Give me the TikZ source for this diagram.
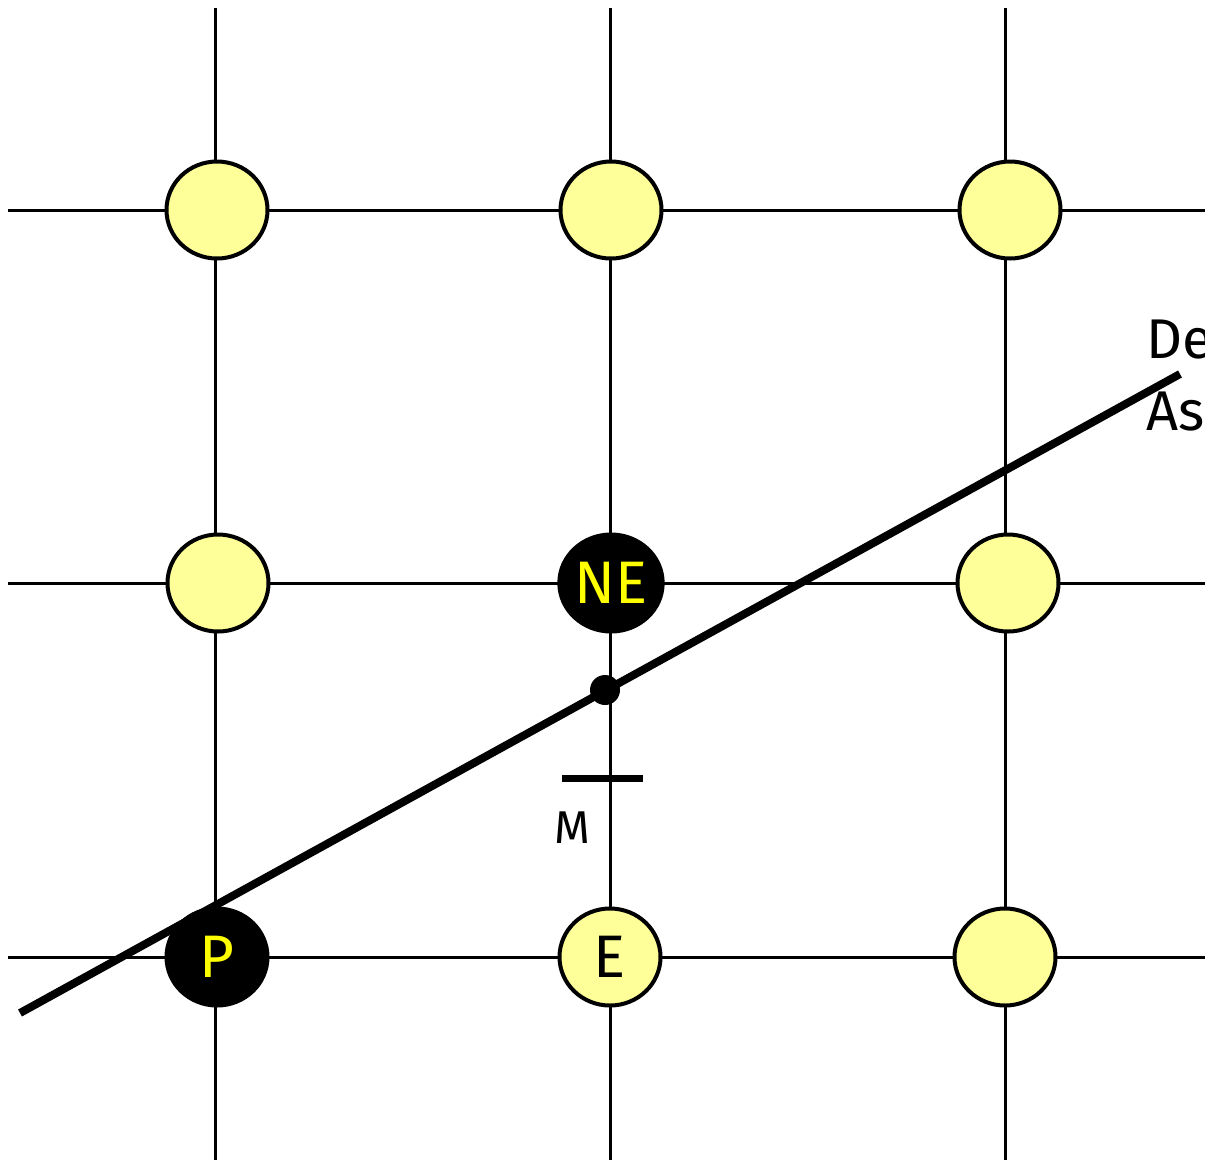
\documentclass[tikz,border=0pt]{standalone}
\usepackage{fontspec}
\setmainfont{Fira Sans}
\usetikzlibrary{shapes.geometric}
\definecolor{lightyel}{HTML}{FFFF99}
\definecolor{txtyel}{HTML}{FFFF00}
\tikzset{
  gridline/.style={line width=3pt, black},
  gpt/.style={ellipse, draw=black, line width=4pt, fill=lightyel, minimum width=101pt, minimum height=97pt, inner sep=0pt},
  bpt/.style={gpt, fill=black, text=txtyel},
  lbl/.style={font=\fontsize{60}{60}\selectfont},
  mainline/.style={line width=8pt, black},
}
\begin{document}
\begin{tikzpicture}[x=1pt,y=-1pt]
\useasboundingbox (0,0) rectangle (1205,1160);
% grid
\foreach \x in {215,610,1005} \draw[gridline] (\x,8) -- (\x,1160);
\foreach \y in {210,583,957} \draw[gridline] (8,\y) -- (1205,\y);
% points
\node[gpt] (a1) at (217,210) {};
\node[gpt] (a2) at (611,210) {};
\node[gpt] (a3) at (1010,210) {};
\node[gpt] (b1) at (218,583) {};
\node[bpt,lbl] (ne) at (611,583) {NE};
\node[gpt] (b3) at (1008,583) {};
\node[bpt,lbl] (p) at (217,957) {P};
\node[gpt,lbl] (e) at (610,957) {E};
\node[gpt] (c3) at (1005,957) {};
% main line
\coordinate (l0) at (20,1013);
\coordinate (l1) at (1180,374);
\draw[mainline] (l0) -- (l1);
\node[circle, fill=black, minimum size=30pt, inner sep=0pt] (mid) at (605,690) {};
% midpoint tick
\coordinate (t0) at (562,778);
\coordinate (t1) at (643,778);
\draw[line width=7pt] (t0) -- (t1);
\node[font=\fontsize{46}{46}\selectfont] (m) at (572,828) {M};
% right labels
\node[anchor=west, font=\fontsize{56}{56}\selectfont, inner sep=0pt] (de) at (1146,340) {De};
\node[anchor=west, font=\fontsize{56}{56}\selectfont, inner sep=0pt] (as) at (1146,412) {As};
\end{tikzpicture}
\end{document}
